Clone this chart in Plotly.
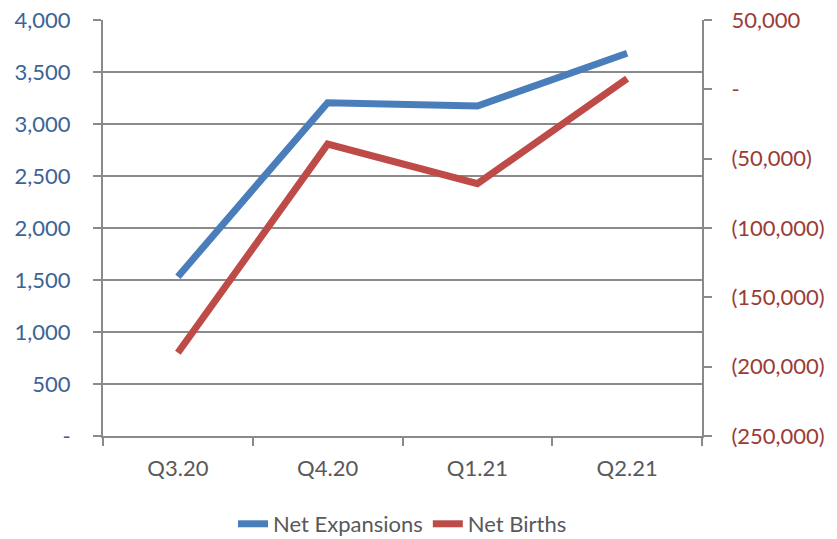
import plotly.graph_objects as go

quarters = ["Q3.20", "Q4.20", "Q1.21", "Q2.21"]
net_expansions = [1532, 3205, 3173, 3680]
net_births = [-190000, -39500, -68000, 7700]

left_tickvals = [0, 500, 1000, 1500, 2000, 2500, 3000, 3500, 4000]
left_ticktext = ["-", "500", "1,000", "1,500", "2,000", "2,500", "3,000", "3,500", "4,000"]
right_tickvals = [-250000, -200000, -150000, -100000, -50000, 0, 50000]
right_ticktext = ["(250,000)", "(200,000)", "(150,000)", "(100,000)", "(50,000)", "-", "50,000"]

FONT = "Lato"
GRAY = "#8a8a8a"

fig = go.Figure()
fig.add_trace(go.Scatter(x=quarters, y=net_expansions, name="Net Expansions",
                         mode="lines", line=dict(color="#4a7ebb", width=7),
                         yaxis="y"))
fig.add_trace(go.Scatter(x=quarters, y=net_births, name="Net Births",
                         mode="lines", line=dict(color="#be4b48", width=7),
                         yaxis="y2"))

fig.update_layout(
    width=837, height=539,
    margin=dict(l=103, r=135, t=20, b=103, autoexpand=False),
    paper_bgcolor="white", plot_bgcolor="white",
    font=dict(family=FONT, size=22, color="#595959"),
    showlegend=True,
    legend=dict(orientation="h", x=0.5, xanchor="center", y=-0.2115, yanchor="middle",
                font=dict(size=22, color="#595959"), itemwidth=30,
                traceorder="normal"),
    xaxis=dict(type="category", range=[-0.5, 3.5], tickson="boundaries",
               ticks="outside", ticklen=8, tickcolor=GRAY, tickwidth=2,
               showline=True, linecolor=GRAY, linewidth=2,
               showgrid=False, tickfont=dict(size=22, color="#595959"),
               ticklabelstandoff=12, automargin=False, ticklabeloverflow="allow"),
    yaxis=dict(range=[0, 4000], tickvals=left_tickvals, ticktext=left_ticktext,
               ticks="outside", ticklen=8, tickcolor=GRAY, tickwidth=2,
               showline=True, linecolor=GRAY, linewidth=2,
               showgrid=True, gridcolor=GRAY, gridwidth=2, zeroline=False,
               tickfont=dict(size=22, color="#3b6496"), ticklabelstandoff=18,
               automargin=False, ticklabeloverflow="allow"),
    yaxis2=dict(range=[-250000, 50000], tickvals=right_tickvals, ticktext=right_ticktext,
                overlaying="y", side="right",
                ticks="outside", ticklen=8, tickcolor=GRAY, tickwidth=2,
                showline=True, linecolor=GRAY, linewidth=2,
                showgrid=False, zeroline=False,
                tickfont=dict(size=22, color="#9b3b36"), ticklabelstandoff=15,
                automargin=False, ticklabeloverflow="allow"),
)

fig.write_html("out.html", config={"displayModeBar": False},
               post_script="document.body.style.margin='0';")
